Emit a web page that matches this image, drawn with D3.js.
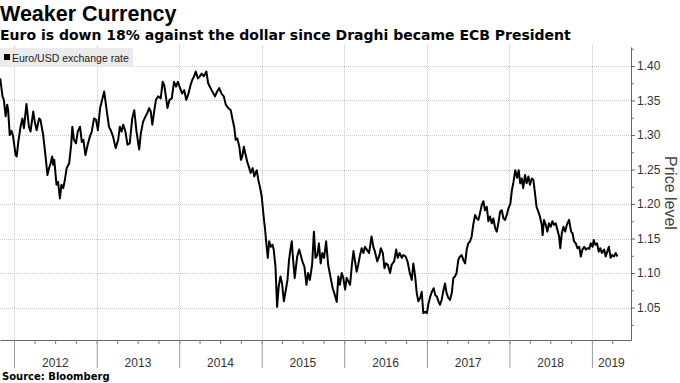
<!DOCTYPE html>
<html>
<head>
<meta charset="utf-8">
<script src="https://cdn.jsdelivr.net/npm/d3@7"></script>
<style>
  body { margin: 0; background: #fff; }
  svg { display: block; font-family: "Liberation Sans", Arial, sans-serif; }
</style>
</head>
<body>
<div id="chart"></div>
<script>
const title = "Weaker Currency";
const subtitle = "Euro is down 18% against the dollar since Draghi became ECB President";
const source = "Source: Bloomberg";
const seriesName = "Euro/USD exchange rate";
const axisTitle = "Price level";

const years = [2012, 2013, 2014, 2015, 2016, 2017, 2018, 2019];
const yTicks = [1.05, 1.10, 1.15, 1.20, 1.25, 1.30, 1.35, 1.40];
const yMinorTicks = [1.025, 1.075, 1.125, 1.175, 1.225, 1.275, 1.325, 1.375, 1.425];

// EUR/USD (roughly weekly)
const dates = [
  "2011-11-01","2011-11-11","2011-11-17","2011-11-25","2011-12-02","2011-12-06","2011-12-13","2011-12-21","2011-12-28",
  "2012-01-08","2012-01-13","2012-01-20","2012-01-30","2012-02-07","2012-02-14","2012-02-25","2012-03-07","2012-03-14","2012-03-26",
  "2012-04-02","2012-04-10","2012-04-21","2012-04-27","2012-05-09","2012-05-19","2012-05-28","2012-06-04","2012-06-11","2012-06-18","2012-06-22","2012-06-27",
  "2012-07-07","2012-07-14","2012-07-22","2012-07-29","2012-08-06","2012-08-13","2012-08-21","2012-09-01","2012-09-10","2012-09-15","2012-09-22",
  "2012-10-01","2012-10-09","2012-10-19","2012-10-27","2012-11-03","2012-11-12","2012-11-22","2012-12-02","2012-12-10","2012-12-20","2012-12-29",
  "2013-01-06","2013-01-16","2013-02-03","2013-02-14","2013-02-24","2013-03-04","2013-03-14","2013-03-26",
  "2013-04-06","2013-04-13","2013-04-21","2013-04-28","2013-05-08","2013-05-17","2013-05-27","2013-06-07","2013-06-16","2013-06-26",
  "2013-07-08","2013-07-15","2013-07-25","2013-08-05","2013-08-12","2013-08-21","2013-08-28","2013-09-04","2013-09-13","2013-09-20","2013-09-30",
  "2013-10-11","2013-10-20","2013-10-27","2013-11-03","2013-11-10","2013-11-19","2013-11-29","2013-12-09","2013-12-18","2013-12-26",
  "2014-01-05","2014-01-14","2014-01-23","2014-02-01","2014-02-11","2014-02-20","2014-02-28","2014-03-08","2014-03-15","2014-03-25",
  "2014-04-02","2014-04-10","2014-04-20","2014-05-01","2014-05-09","2014-05-24","2014-06-08","2014-06-18","2014-06-27",
  "2014-07-07","2014-07-17","2014-07-26","2014-08-06","2014-08-17","2014-08-24","2014-09-01","2014-09-08","2014-09-15","2014-09-24",
  "2014-10-01","2014-10-07","2014-10-14","2014-10-22","2014-10-29","2014-11-07","2014-11-13","2014-11-22","2014-11-29","2014-12-10","2014-12-17","2014-12-24",
  "2015-01-01","2015-01-08","2015-01-16","2015-01-24","2015-01-28","2015-02-03","2015-02-10","2015-02-18","2015-02-23","2015-03-03","2015-03-10","2015-03-17","2015-03-25",
  "2015-04-01","2015-04-09","2015-04-18","2015-04-25","2015-05-02","2015-05-08","2015-05-14","2015-05-20","2015-05-27","2015-06-07","2015-06-16","2015-06-30",
  "2015-07-09","2015-07-18","2015-07-25","2015-08-02","2015-08-12","2015-08-20","2015-08-27","2015-09-04","2015-09-11","2015-09-19","2015-09-26",
  "2015-10-04","2015-10-13","2015-10-22","2015-11-02","2015-11-11","2015-11-18","2015-11-29","2015-12-06","2015-12-13","2015-12-21","2015-12-28",
  "2016-01-05","2016-01-12","2016-01-19","2016-01-27","2016-02-04","2016-02-11","2016-02-18","2016-02-25","2016-03-03","2016-03-11","2016-03-18","2016-03-26",
  "2016-04-02","2016-04-10","2016-04-20","2016-05-01","2016-05-09","2016-05-16","2016-05-26","2016-06-05","2016-06-11","2016-06-20","2016-06-27",
  "2016-07-04","2016-07-12","2016-07-22","2016-07-29","2016-08-09","2016-08-18","2016-08-25","2016-09-02","2016-09-12","2016-09-19","2016-09-29",
  "2016-10-07","2016-10-16","2016-10-26","2016-11-02","2016-11-10","2016-11-17","2016-11-24","2016-12-02","2016-12-09","2016-12-16","2016-12-24",
  "2017-01-01","2017-01-08","2017-01-16","2017-01-23","2017-01-31","2017-02-07","2017-02-14","2017-02-21","2017-02-28","2017-03-07","2017-03-14","2017-03-22","2017-03-29",
  "2017-04-06","2017-04-13","2017-04-21","2017-04-28","2017-05-05","2017-05-12","2017-05-20","2017-05-27","2017-06-04","2017-06-11","2017-06-19","2017-06-26",
  "2017-07-03","2017-07-11","2017-07-18","2017-07-25","2017-08-02","2017-08-10","2017-08-17","2017-08-24","2017-09-01","2017-09-08","2017-09-15","2017-09-23","2017-09-30",
  "2017-10-07","2017-10-15","2017-10-22","2017-10-30","2017-11-06","2017-11-13","2017-11-21","2017-11-28","2017-12-06","2017-12-13","2017-12-20","2017-12-28",
  "2018-01-05","2018-01-12","2018-01-19","2018-01-27","2018-02-04","2018-02-11","2018-02-18","2018-02-25","2018-03-03","2018-03-11","2018-03-18","2018-03-26",
  "2018-04-02","2018-04-10","2018-04-17","2018-04-24","2018-05-01","2018-05-09","2018-05-16","2018-05-24","2018-05-28","2018-06-03","2018-06-11","2018-06-18","2018-06-25",
  "2018-07-03","2018-07-10","2018-07-17","2018-07-25","2018-08-01","2018-08-09","2018-08-14","2018-08-21","2018-08-28","2018-09-05","2018-09-12","2018-09-22",
  "2018-10-01","2018-10-07","2018-10-14","2018-10-22","2018-10-29","2018-11-06","2018-11-13","2018-11-20","2018-11-28","2018-12-05","2018-12-12","2018-12-20","2018-12-27",
  "2019-01-04","2019-01-09","2019-01-16","2019-01-24","2019-01-31","2019-02-07","2019-02-14","2019-02-24","2019-03-03","2019-03-10","2019-03-17","2019-03-25",
  "2019-04-01","2019-04-09","2019-04-16","2019-04-24"
];
const rates = [
  1.382,1.356,1.351,1.327,1.344,1.336,1.300,1.306,1.298,
  1.271,1.269,1.290,1.312,1.324,1.310,1.345,1.312,1.305,1.334,
  1.319,1.307,1.324,1.322,1.300,1.271,1.242,1.252,1.259,1.269,1.257,1.264,
  1.228,1.232,1.208,1.228,1.223,1.235,1.252,1.259,1.286,1.312,1.293,
  1.288,1.305,1.312,1.290,1.293,1.271,1.286,1.298,1.305,1.324,1.322,
  1.307,1.339,1.363,1.336,1.312,1.307,1.298,1.281,
  1.293,1.312,1.305,1.315,1.305,1.286,1.288,1.324,1.336,1.305,
  1.279,1.302,1.319,1.327,1.331,1.339,1.334,1.315,1.336,1.351,1.356,
  1.353,1.377,1.372,1.356,1.339,1.351,1.353,1.377,1.370,1.377,
  1.368,1.360,1.365,1.351,1.360,1.372,1.380,1.385,1.392,1.382,
  1.385,1.389,1.385,1.392,1.375,1.365,1.356,1.363,1.368,
  1.360,1.356,1.344,1.339,1.336,1.324,1.312,1.293,1.295,1.283,
  1.264,1.269,1.283,1.271,1.261,1.252,1.245,1.252,1.240,1.249,1.235,1.225,
  1.211,1.187,1.163,1.134,1.122,1.146,1.138,1.141,1.134,1.109,1.051,1.080,1.095,
  1.085,1.059,1.076,1.090,1.119,1.134,1.146,1.119,1.093,1.124,1.134,1.117,
  1.109,1.083,1.100,1.090,1.112,1.160,1.122,1.126,1.143,1.114,1.129,
  1.122,1.146,1.112,1.093,1.078,1.071,1.058,1.095,1.083,1.100,1.093,
  1.076,1.093,1.088,1.083,1.112,1.132,1.117,1.102,1.112,1.126,1.136,1.129,
  1.138,1.134,1.129,1.153,1.138,1.131,1.117,1.126,1.136,1.129,1.107,
  1.114,1.112,1.100,1.112,1.117,1.134,1.122,1.129,1.122,1.126,1.124,
  1.117,1.102,1.090,1.114,1.095,1.071,1.059,1.064,1.073,1.042,1.044,
  1.042,1.056,1.066,1.073,1.078,1.068,1.066,1.059,1.054,1.061,1.073,1.085,1.071,
  1.064,1.061,1.071,1.093,1.095,1.100,1.119,1.124,1.126,1.119,1.114,1.134,
  1.143,1.146,1.153,1.170,1.184,1.179,1.177,1.187,1.199,1.204,1.191,1.196,1.175,
  1.182,1.172,1.179,1.165,1.160,1.172,1.189,1.191,1.179,1.177,1.184,1.194,
  1.200,1.220,1.232,1.249,1.238,1.249,1.230,1.237,1.223,1.242,1.230,1.240,
  1.228,1.237,1.235,1.216,1.196,1.189,1.182,1.170,1.155,1.177,1.170,1.160,1.172,
  1.167,1.175,1.170,1.172,1.163,1.153,1.136,1.158,1.167,1.160,1.170,1.177,
  1.160,1.158,1.146,1.143,1.136,1.138,1.124,1.134,1.138,1.134,1.136,1.135,1.143,
  1.138,1.148,1.141,1.143,1.131,1.136,1.129,1.134,1.124,1.131,1.138,1.122,
  1.126,1.124,1.129,1.124
];

const width = 680;
const height = 383;
const plot = { left: 0, right: 631, top: 47, bottom: 340 };

const parse = d3.utcParse("%Y-%m-%d");
const data = dates.map((d, i) => ({ date: parse(d), value: rates[i] }));

const x = d3.scaleUtc()
  .domain([parse("2011-10-31"), parse("2019-06-23")])
  .range([plot.left, plot.right]);

const y = d3.scaleLinear()
  .domain([1.003, 1.4275])
  .range([plot.bottom, plot.top]);

const yearStarts = years.map((yr) => new Date(Date.UTC(yr, 0, 1)));
const quarters = d3.utcMonth.every(3).range(x.domain()[0], x.domain()[1]);

const svg = d3.select("#chart")
  .append("svg")
  .attr("width", width)
  .attr("height", height);

svg.append("rect").attr("width", width).attr("height", height).attr("fill", "#fff");

// grid
const grid = svg.append("g")
  .attr("stroke", "#c9c9c9")
  .attr("stroke-width", 1)
  .attr("stroke-dasharray", "1,1");

grid.selectAll(".h")
  .data(yTicks)
  .join("line")
  .attr("x1", plot.left)
  .attr("x2", plot.right)
  .attr("y1", (d) => Math.round(y(d)) + 0.5)
  .attr("y2", (d) => Math.round(y(d)) + 0.5);

grid.selectAll(".v")
  .data(yearStarts)
  .join("line")
  .attr("x1", (d) => Math.round(x(d)) + 0.5)
  .attr("x2", (d) => Math.round(x(d)) + 0.5)
  .attr("y1", 45)
  .attr("y2", plot.bottom);

// legend
const legend = svg.append("g");
legend.append("rect")
  .attr("x", 0).attr("y", 48)
  .attr("width", 133).attr("height", 19)
  .attr("fill", "#ebebeb");
legend.append("rect")
  .attr("x", 4).attr("y", 54)
  .attr("width", 6).attr("height", 6)
  .attr("fill", "#000");
legend.append("text")
  .attr("x", 12).attr("y", 61.5)
  .attr("font-size", 10.5)
  .attr("fill", "#222")
  .text(seriesName);

// x axis: year separators, quarter ticks, labels
svg.append("g")
  .attr("transform", `translate(0,${plot.bottom})`)
  .call(d3.axisBottom(x).tickValues(quarters).tickSize(4).tickFormat("").tickSizeOuter(0))
  .call((g) => g.select(".domain").attr("stroke", "#666"))
  .call((g) => g.selectAll(".tick line").attr("stroke", "#777"));

svg.append("g")
  .attr("transform", `translate(0,${plot.bottom})`)
  .call(d3.axisBottom(x).tickValues(yearStarts).tickSize(28).tickFormat("").tickSizeOuter(0))
  .call((g) => g.select(".domain").remove())
  .call((g) => g.selectAll(".tick line").attr("stroke", "#999"));

svg.append("g")
  .selectAll("text")
  .data(yearStarts)
  .join("text")
  .attr("x", (d, i) => {
    const end = i + 1 < yearStarts.length ? x(yearStarts[i + 1]) : plot.right;
    return (x(d) + Math.min(end, plot.right)) / 2;
  })
  .attr("y", 367)
  .attr("text-anchor", "middle")
  .attr("font-size", 12)
  .attr("fill", "#333")
  .text((d) => d.getUTCFullYear());

// y axis on the right
svg.append("g")
  .attr("transform", `translate(${plot.right},0)`)
  .call(d3.axisRight(y).tickValues(yMinorTicks).tickSize(3).tickFormat("").tickSizeOuter(0))
  .call((g) => g.select(".domain").remove())
  .call((g) => g.selectAll(".tick line").attr("stroke", "#777"));

svg.append("g")
  .attr("transform", `translate(${plot.right},0)`)
  .call(d3.axisRight(y).tickValues(yTicks).tickSize(4).tickPadding(2)
    .tickFormat(d3.format(".2f")).tickSizeOuter(0))
  .call((g) => g.select(".domain").attr("stroke", "#666"))
  .call((g) => g.selectAll(".tick line").attr("stroke", "#666"))
  .call((g) => g.selectAll(".tick text")
    .attr("font-family", "Liberation Sans, Arial, sans-serif")
    .attr("font-size", 12)
    .attr("fill", "#333"));

svg.append("text")
  .attr("transform", "translate(665,193) rotate(90)")
  .attr("text-anchor", "middle")
  .attr("font-size", 16)
  .attr("fill", "#444")
  .text(axisTitle);

// the line
const line = d3.line()
  .x((d) => x(d.date))
  .y((d) => y(d.value));

svg.append("path")
  .datum(data)
  .attr("fill", "none")
  .attr("stroke", "#000")
  .attr("stroke-width", 2)
  .attr("stroke-linejoin", "round")
  .attr("d", line);

// titles
svg.append("text")
  .attr("x", 0).attr("y", 21)
  .attr("font-size", 21.5)
  .attr("font-weight", "bold")
  .attr("fill", "#000")
  .text(title);

svg.append("text")
  .attr("x", 0).attr("y", 40)
  .attr("font-family", "DejaVu Sans, sans-serif")
  .attr("font-size", 14)
  .attr("font-weight", "bold")
  .attr("fill", "#000")
  .text(subtitle);

svg.append("text")
  .attr("x", 2).attr("y", 380)
  .attr("font-family", "DejaVu Sans, sans-serif")
  .attr("font-size", 10)
  .attr("font-weight", "bold")
  .attr("fill", "#000")
  .text(source);
</script>
</body>
</html>
